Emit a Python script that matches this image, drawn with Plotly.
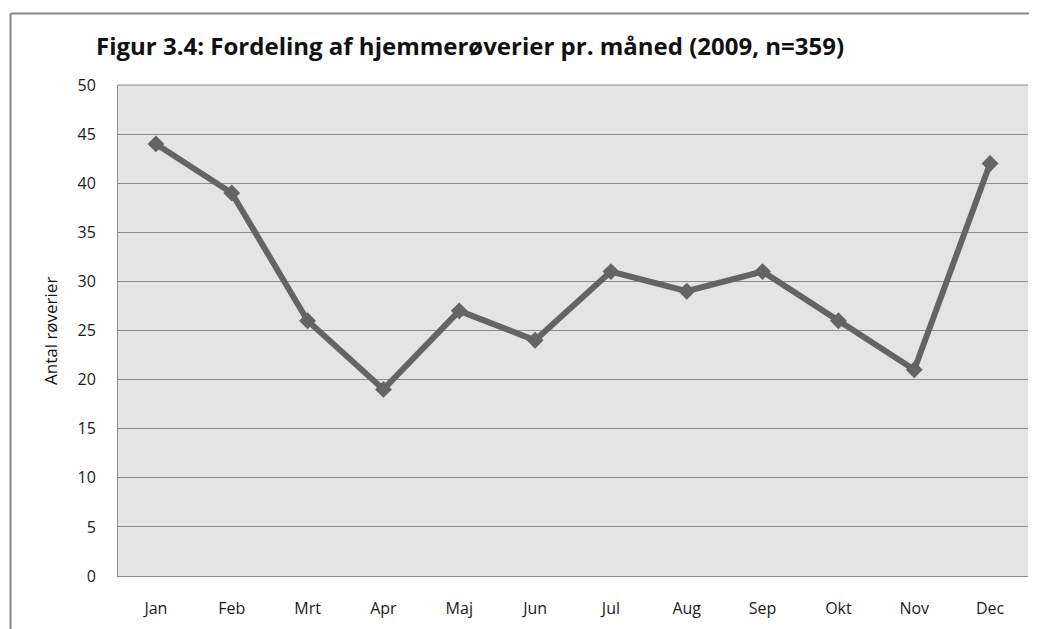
import plotly.graph_objects as go

months = ["Jan", "Feb", "Mrt", "Apr", "Maj", "Jun", "Jul", "Aug", "Sep", "Okt", "Nov", "Dec"]
values = [44, 39, 26, 19, 27, 24, 31, 29, 31, 26, 21, 42]
title_text = "Figur 3.4: Fordeling af hjemmerøverier pr. måned (2009, n=359)"
y_title = "Antal røverier"

OFF = 8  # page body margin
W, H = 1037 - OFF, 629 - OFF
L, R, T, B = 118 - OFF, 1028 - OFF, 85 - OFF, 576 - OFF
pw, ph = R - L, B - T

def px(x):
    return (x - OFF - L) / pw

def py(y):
    return (B - (y - OFF)) / ph

fig = go.Figure()
fig.add_trace(go.Scatter(
    x=months, y=values, mode="lines+markers",
    line=dict(color="#646464", width=6),
    marker=dict(symbol="diamond", size=13, color="#646464"),
    showlegend=False, cliponaxis=False,
))

font = "'Open Sans', sans-serif"
fig.update_layout(
    width=W, height=H,
    margin=dict(l=L, r=W - R, t=T, b=H - B),
    paper_bgcolor="white", plot_bgcolor="#e4e4e4",
    font=dict(family=font, color="#1a1a1a", size=16),
    xaxis=dict(type="category", range=[-0.5, 11.5], showgrid=False,
               showline=True, linecolor="#8c8c8c", linewidth=1, mirror=False,
               ticks="", tickfont=dict(size=16), ticklabelstandoff=18),
    yaxis=dict(range=[0, 50], dtick=5, showgrid=True, gridcolor="#8c8c8c", gridwidth=1,
               showline=True, linecolor="#8c8c8c", linewidth=1, ticks="",
               tickfont=dict(size=16), ticklabelstandoff=18, zeroline=False),
    annotations=[
        dict(text="<b>" + title_text + "</b>", xref="paper", yref="paper",
             x=px(94), y=py(45), xanchor="left", yanchor="middle",
             showarrow=False, font=dict(size=24, family=font, color="#111")),
        dict(text=y_title, xref="paper", yref="paper", textangle=-90,
             x=px(50), y=py(331), xanchor="center", yanchor="middle",
             showarrow=False, font=dict(size=17, family=font, color="#111")),
    ],
    shapes=[
        dict(type="line", xref="paper", yref="paper", x0=px(10.5), x1=px(1045),
             y0=py(13.5), y1=py(13.5), line=dict(color="#888888", width=2)),
        dict(type="line", xref="paper", yref="paper", x0=px(10.5), x1=px(10.5),
             y0=py(13.5), y1=py(650), line=dict(color="#888888", width=2)),
        dict(type="line", xref="paper", yref="paper", x0=0, x1=1, y0=1, y1=1,
             line=dict(color="#8c8c8c", width=1)),
    ],
)

fig.write_html("out.html")
